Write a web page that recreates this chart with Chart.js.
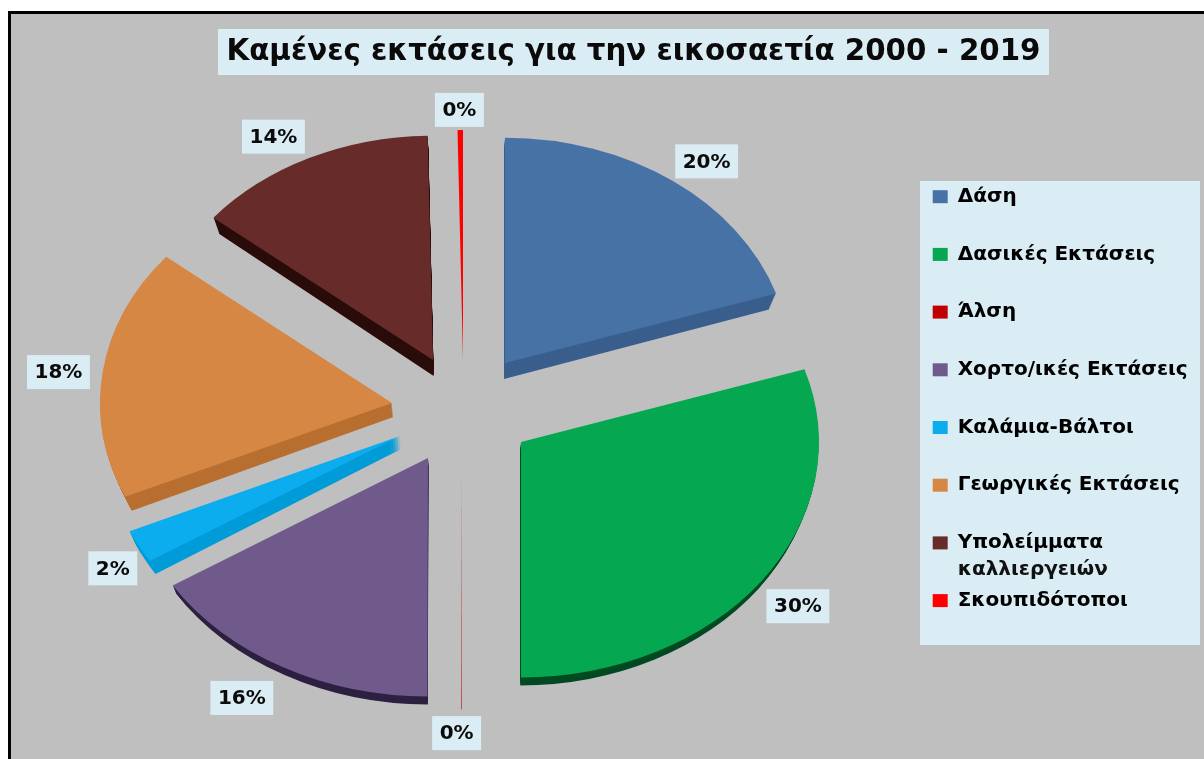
<!DOCTYPE html>
<html>
<head>
<meta charset="utf-8">
<style>
html, body { margin: 0; padding: 0; background: #fff; }
#wrap { width: 1204px; height: 759px; }
</style>
</head>
<body>
<div id="wrap"><canvas id="burnedAreas" width="1204" height="759"></canvas></div>
<script src="https://cdn.jsdelivr.net/npm/chart.js@4"></script>
<script>
const chartTitle = 'Καμένες εκτάσεις για την εικοσαετία 2000 - 2019';
const categories = ['Δάση', 'Δασικές Εκτάσεις', 'Άλση', 'Χορτο/ικές Εκτάσεις', 'Καλάμια-Βάλτοι',
    'Γεωργικές Εκτάσεις', 'Υπολείμματα\nκαλλιεργειών', 'Σκουπιδότοποι'];
const shares = [20, 30, 0.03, 16, 2.3, 17.6, 13.77, 0.3];
const sliceColors = ['#4672a6', '#05a850', '#c00000', '#6f5a8b', '#0cadee', '#d68744', '#672c29', '#ff0000'];
const sideColors = ['#3a5f8d', '#024a22', '#c00000', '#2e2040', '#009cd8', '#b86f30', '#2a0d0b', '#ff0000'];
// how far each slice is pulled out of the pie, on screen
const explodeX = [42, 58, -1, -35, -63, -71, -30, 0];
const explodeY = [-51, 28, 55, 44, 22, -11, -54, -54];
const sliceRadii = [285, 298, 304, 302, 296, 292, 284, 291];
const sideDepths = [16, 8, 0, 8, 13, 14, 16, 0];
const labelDistances = [402, 414, 404, 422, 401, 408, 399, 385];
const labelTurns = [1.3, 0, 0.85, 2.7, -1, -0.2, -2.5, 0];

const squash = 0.79;
const sideNarrowing = 0.0014;
const boxColor = '#dbedf4';
const fontName = '"DejaVu Sans"';
const legendSize = 20;

function squashFrom(ctx, cy) {
    ctx.translate(0, cy);
    ctx.scale(1, squash);
    ctx.translate(0, -cy);
}

function pieCenter(chart) {
    const area = chart.chartArea;
    return { x: (area.left + area.right) / 2, y: (area.top + area.bottom) / 2 };
}

const tiltedPie = {
    id: 'tiltedPie',
    afterLayout(chart) {
        // fixed places, the reference was not laid out by chart.js rules
        chart.chartArea = { left: 163, right: 763, top: 114, bottom: 714, width: 600, height: 600 };
        const legend = chart.legend;
        legend.left = 895;
        legend.right = 1204;
        legend.top = 149;
        legend.bottom = 759;
        const title = chart.titleBlock;
        title.left = 218;
        title.right = 1049;
        title.top = 35;
        title.bottom = 71;
    },
    afterDatasetsUpdate(chart) {
        // the offset option thins narrow slices, so move the elements instead
        const c = pieCenter(chart);
        chart.getDatasetMeta(0).data.forEach((arc, i) => {
            arc.x = c.x + explodeX[i];
            arc.y = c.y + explodeY[i] / squash;
            arc.outerRadius = sliceRadii[i];
        });
    },
    beforeDraw(chart) {
        const ctx = chart.ctx;
        ctx.save();
        ctx.fillStyle = '#ffffff';
        ctx.fillRect(0, 0, 1204, 759);
        ctx.fillStyle = '#000000';
        ctx.fillRect(8, 11, 1196, 748);
        ctx.fillStyle = '#bfbfbf';
        ctx.fillRect(11, 14, 1193, 745);
        ctx.fillStyle = boxColor;
        ctx.fillRect(218, 29, 831, 46);
        ctx.fillRect(920, 181, 280, 464);
        ctx.restore();
    },
    beforeDatasetsDraw(chart) {
        const ctx = chart.ctx;
        const c = pieCenter(chart);
        ctx.save();
        chart.getDatasetMeta(0).data.forEach((arc, i) => {
            const faceOptions = arc.options;
            arc.options = { ...faceOptions, backgroundColor: sideColors[i] };
            for (let d = sideDepths[i]; d > 0; d--) {
                ctx.save();
                // lower layers lean in towards the middle, like the perspective in the picture
                ctx.translate(c.x, d);
                ctx.scale(1 - d * sideNarrowing, 1);
                ctx.translate(-c.x, 0);
                squashFrom(ctx, c.y);
                arc.draw(ctx);
                ctx.restore();
            }
            arc.options = faceOptions;
        });
        squashFrom(ctx, c.y);
    },
    afterDatasetsDraw(chart) {
        const ctx = chart.ctx;
        ctx.restore();
        const c = pieCenter(chart);
        const total = shares.reduce((a, b) => a + b, 0);
        ctx.save();
        ctx.font = 'bold 20px ' + fontName;
        ctx.textAlign = 'center';
        ctx.textBaseline = 'middle';
        chart.getDatasetMeta(0).data.forEach((arc, i) => {
            const mid = (arc.startAngle + arc.endAngle) / 2 + labelTurns[i] * Math.PI / 180;
            const x = c.x + Math.cos(mid) * labelDistances[i];
            const y = c.y + Math.sin(mid) * labelDistances[i] * squash;
            const text = Math.round(shares[i] / total * 100) + '%';
            const w = ctx.measureText(text).width + 15;
            ctx.fillStyle = boxColor;
            ctx.fillRect(x - w / 2, y - 17, w, 34);
            ctx.fillStyle = '#0a0a0a';
            ctx.fillText(text, x, y + 1);
        });
        ctx.restore();

        // second lines of legend entries: chart.js pushes the next entry down otherwise
        const legend = chart.legend;
        const labels = legend.options.labels;
        const step = legendSize + labels.padding;
        ctx.save();
        ctx.font = 'bold ' + legendSize + 'px ' + fontName;
        ctx.textBaseline = 'middle';
        ctx.fillStyle = '#111111';
        categories.forEach((name, i) => {
            const lines = name.split('\n');
            if (lines.length > 1) {
                const top = legend.top + labels.padding + i * step;
                ctx.fillText(lines[1], legend.left + labels.padding + labels.boxWidth + legendSize / 2, top + legendSize / 2 + 27);
            }
        });
        ctx.restore();
    },
};

const config = {
    type: 'pie',
    data: {
        labels: categories,
        datasets: [{
            data: shares,
            backgroundColor: sliceColors,
            borderWidth: 0,
            clip: false,
        }],
    },
    options: {
        responsive: false,
        animation: false,
        plugins: {
            tooltip: { enabled: false },
            title: {
                display: true,
                text: chartTitle,
                color: '#0a0a0a',
                padding: 0,
                font: { family: fontName, size: 29.3, weight: 'bold' },
            },
            legend: {
                position: 'right',
                align: 'start',
                labels: {
                    boxWidth: 15,
                    boxHeight: 13,
                    padding: 37.7,
                    color: '#111111',
                    font: { family: fontName, size: legendSize, weight: 'bold' },
                    generateLabels() {
                        return categories.map((name, i) => ({
                            text: name.split('\n')[0],
                            fillStyle: sliceColors[i],
                            strokeStyle: sliceColors[i],
                            lineWidth: 0,
                            index: i,
                        }));
                    },
                },
            },
        },
    },
    plugins: [tiltedPie],
};
const burnedChart = new Chart(document.getElementById('burnedAreas'), config);
</script>
</body>
</html>
